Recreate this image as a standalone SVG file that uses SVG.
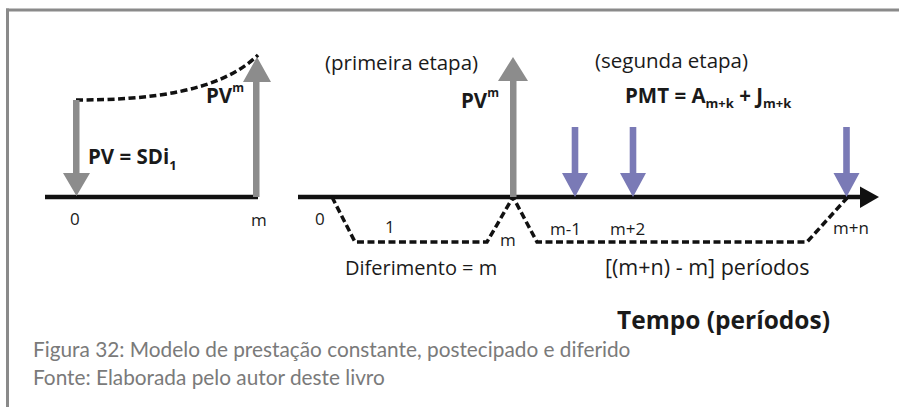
<svg xmlns="http://www.w3.org/2000/svg" width="899" height="407" viewBox="0 0 899 407">
<style>
.t{font-family:"Open Sans","Liberation Sans",sans-serif;fill:#1a1a1a}
.r{font-size:20.5px}
.s{font-size:17px}
.b{font-weight:bold}
.cap{font-family:Lato,"Open Sans",sans-serif;font-size:20.8px;fill:#7a7a7a}
.gray{fill:#8c8c8c}
.blue{fill:#7a7ab6}
.axis{stroke:#111;stroke-width:4.5;fill:none}
.dash{stroke:#111;stroke-width:3.5;fill:none;stroke-dasharray:7 3.5}
</style>
<rect width="899" height="407" fill="#fff"/>
<g id="frame" fill="#8a8a8a">
<rect x="6" y="8.5" width="893" height="3"/>
<rect x="6" y="8.5" width="3" height="398.5"/>
</g>
<g id="connectors">
<line class="axis" x1="45" y1="197" x2="258" y2="197"/>
<path class="dash" d="M76,100 C150,100 220,92 258,55"/>
<line class="axis" x1="298" y1="197" x2="864" y2="197"/>
<polygon points="860,186.5 879,197 860,208" fill="#111"/>
<path class="dash" d="M332,197 L355,242 H487 L513,197 L537,242 H807 L847,198"/>
</g>
<g id="arrow-pv-down">
<path class="gray" d="M73,100 H79.5 V173 H90 L76.5,196 L63,173 H73 Z"/>
</g>
<g id="arrow-pvm-left">
<path class="gray" d="M253,197 H259.5 V82 H271 L257,57 L243,82 H253 Z"/>
</g>
<g id="arrow-pvm-center">
<path class="gray" d="M510,197 H516.5 V81 H528 L513,57 L498,81 H510 Z"/>
</g>
<g id="arrow-pmt-1">
<path class="blue" d="M571.7,127 H578.3 V173 H588 L575,197 L562,173 H571.7 Z"/>
</g>
<g id="arrow-pmt-2">
<path class="blue" d="M629.7,127 H636.3 V173 H646 L633,197 L620,173 H629.7 Z"/>
</g>
<g id="arrow-pmt-3">
<path class="blue" d="M843.2,127 H849.8 V173 H859.5 L846.5,197 L833.5,173 H843.2 Z"/>
</g>
<g id="labels-left">
<text class="t b r" x="88" y="164">PV = SDi<tspan font-size="13" dy="6">1</tspan></text>
<text class="t b r" x="206" y="103">PV<tspan font-size="12" dy="-11">m</tspan></text>
<text class="t s" x="70" y="225">0</text>
<text class="t s" x="251" y="226">m</text>
</g>
<g id="labels-center">
<text class="t r" x="325" y="70">(primeira etapa)</text>
<text class="t b r" x="461" y="108">PV<tspan font-size="12" dy="-11">m</tspan></text>
<text class="t s" x="315" y="225">0</text>
<text class="t s" x="385" y="233">1</text>
<text class="t s" x="500" y="246">m</text>
<text class="t s" x="550" y="235">m-1</text>
<text class="t" font-size="20" x="345" y="275">Diferimento = m</text>
</g>
<g id="labels-right">
<text class="t r" x="595" y="68">(segunda etapa)</text>
<text class="t b r" x="625" y="103">PMT = A<tspan font-size="13" dy="5">m+k</tspan><tspan dy="-5"> + J</tspan><tspan font-size="13" dy="5">m+k</tspan></text>
<text class="t s" x="610" y="235">m+2</text>
<text class="t s" x="833" y="234">m+n</text>
<text class="t" font-size="21.5" x="605" y="275">[(m+n) - m] períodos</text>
<text class="t b" font-size="24.5" x="617" y="329">Tempo (períodos)</text>
</g>
<g id="caption">
<text class="cap" x="33" y="357">Figura 32: Modelo de prestação constante, postecipado e diferido</text>
<text class="cap" x="33" y="385">Fonte: Elaborada pelo autor deste livro</text>
</g>
</svg>
